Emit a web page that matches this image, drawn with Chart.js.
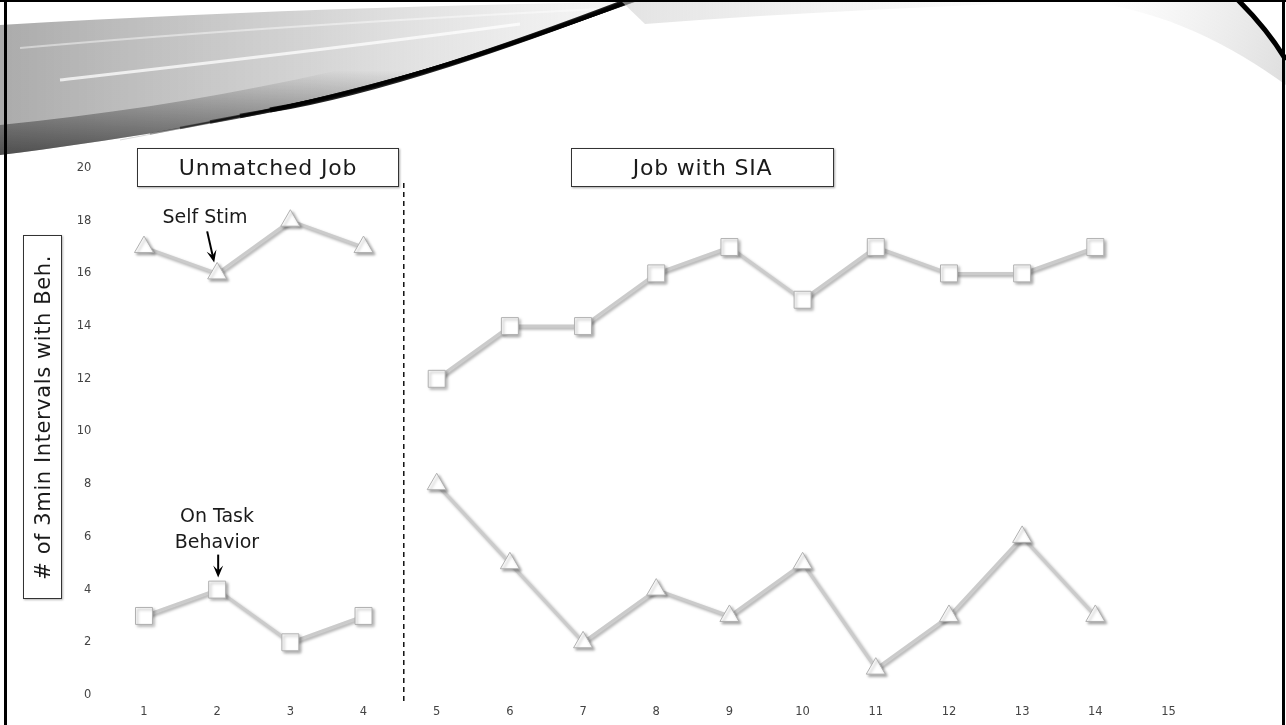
<!DOCTYPE html>
<html>
<head>
<meta charset="utf-8">
<script src="https://cdn.jsdelivr.net/npm/chart.js@4.4.1/dist/chart.umd.min.js"></script>
<style>
html, body { margin: 0; padding: 0; background: #fff; }
#wrap { position: relative; width: 1286px; height: 725px; overflow: hidden; font-family: "DejaVu Sans", sans-serif; color: #1a1a1a; }
#bg, #chart { position: absolute; left: 0; top: 0; }
.box { position: absolute; border: 1px solid #333; background: #fff; box-sizing: border-box; text-align: center; font-size: 22px; letter-spacing: 0.8px; line-height: 37px; box-shadow: 1px 1px 2px rgba(0,0,0,0.35); }
.note { position: absolute; text-align: center; font-size: 19px; line-height: 26px; white-space: nowrap; }
#ytitle { position: absolute; left: 23px; top: 235px; width: 39px; height: 364px; border: 1px solid #333; box-sizing: border-box; background: #fff; box-shadow: 1px 1px 2px rgba(0,0,0,0.3); display: flex; align-items: center; justify-content: center; }
#ytitle span { writing-mode: vertical-rl; transform: rotate(180deg); font-size: 21px; letter-spacing: 0.6px; white-space: nowrap; }
</style>
</head>
<body>
<div id="wrap">
  <canvas id="bg" width="1286" height="725"></canvas>
  <canvas id="chart" width="1286" height="725"></canvas>
  <div class="box" style="left:137px; top:148px; width:262px; height:39px;">Unmatched Job</div>
  <div class="box" style="left:571px; top:148px; width:263px; height:39px;">Job with SIA</div>
  <div id="ytitle"><span># of 3min Intervals with Beh.</span></div>
  <div class="note" style="left:155px; top:203px; width:100px;">Self Stim</div>
  <div class="note" style="left:162px; top:502px; width:110px;">On Task<br>Behavior</div>
</div>
<script>
// sessions on the x axis
var sessionTicks = [1, 2, 3, 4, 5, 6, 7, 8, 9, 10, 11, 12, 13, 14, 15];
var yTicks = [0, 2, 4, 6, 8, 10, 12, 14, 16, 18, 20];
var unmatchedSessions = [1, 2, 3, 4];
var siaSessions = [5, 6, 7, 8, 9, 10, 11, 12, 13, 14];
// self stim (triangles)
var selfStimUnmatched = [17, 16, 18, 17];
var selfStimSIA = [8, 5, 2, 4, 3, 5, 1, 3, 6, 3];
// on task behavior (squares)
var onTaskUnmatched = [3, 4, 2, 3];
var onTaskSIA = [12, 14, 14, 16, 17, 15, 17, 16, 16, 17];
var phaseChange = 4.55;

function points(xs, ys) {
  return xs.map(function(x, i) { return { x: x, y: ys[i] }; });
}

// slide decoration + frame
function drawBackground() {
  var c = document.getElementById('bg').getContext('2d');
  // gray swoosh band on the left
  var g = c.createLinearGradient(0, 0, 700, 0);
  g.addColorStop(0, 'rgba(150,150,150,0.8)');
  g.addColorStop(0.45, 'rgba(190,190,190,0.65)');
  g.addColorStop(1, 'rgba(235,235,235,0.25)');
  c.beginPath();
  c.moveTo(0, 25);
  c.bezierCurveTo(250, 10, 500, 3, 760, 0);
  c.lineTo(630, 0);
  c.bezierCurveTo(450, 80, 220, 128, 0, 155);
  c.closePath();
  c.fillStyle = g;
  c.fill();
  // dark shading along the lower edge
  var d = c.createLinearGradient(0, 160, 0, 70);
  d.addColorStop(0, 'rgba(40,40,40,0.75)');
  d.addColorStop(1, 'rgba(40,40,40,0)');
  c.beginPath();
  c.moveTo(0, 155);
  c.bezierCurveTo(220, 128, 450, 80, 630, 0);
  c.lineTo(570, 0);
  c.bezierCurveTo(400, 65, 200, 105, 0, 125);
  c.closePath();
  c.fillStyle = d;
  c.fill();
  // light streaks
  c.strokeStyle = 'rgba(255,255,255,0.75)';
  c.lineWidth = 3;
  c.beginPath();
  c.moveTo(60, 80);
  c.bezierCurveTo(200, 64, 350, 47, 520, 24);
  c.stroke();
  c.strokeStyle = 'rgba(255,255,255,0.45)';
  c.lineWidth = 2;
  c.beginPath();
  c.moveTo(20, 48);
  c.bezierCurveTo(200, 32, 380, 20, 600, 9);
  c.stroke();
  // black strand, thickening to the upper right
  for (var i = 0; i < 6; i++) {
    c.strokeStyle = 'rgba(0,0,0,' + (0.2 + i * 0.13) + ')';
    c.lineWidth = 0.8 + i * 0.9;
    c.beginPath();
    c.moveTo(120 + i * 30, 140 - i * 6);
    c.bezierCurveTo(380, 92, 520, 42, 640 - i * 2, 0);
    c.stroke();
  }
  // faint top band in the middle
  var t = c.createLinearGradient(600, 0, 1100, 0);
  t.addColorStop(0, 'rgba(205,205,205,0.6)');
  t.addColorStop(1, 'rgba(230,230,230,0)');
  c.beginPath();
  c.moveTo(620, 0);
  c.lineTo(1100, 0);
  c.bezierCurveTo(950, 6, 800, 12, 645, 24);
  c.closePath();
  c.fillStyle = t;
  c.fill();
  // right corner
  var r = c.createLinearGradient(1100, 0, 1286, 60);
  r.addColorStop(0, 'rgba(225,225,225,0)');
  r.addColorStop(1, 'rgba(210,210,210,0.7)');
  c.beginPath();
  c.moveTo(1080, 0);
  c.lineTo(1240, 0);
  c.bezierCurveTo(1260, 20, 1275, 40, 1286, 62);
  c.lineTo(1286, 85);
  c.bezierCurveTo(1230, 45, 1170, 12, 1080, 0);
  c.fillStyle = r;
  c.fill();
  c.strokeStyle = '#000';
  c.lineWidth = 5;
  c.beginPath();
  c.moveTo(1238, 0);
  c.bezierCurveTo(1258, 20, 1274, 40, 1286, 60);
  c.stroke();
  // frame
  c.fillStyle = '#000';
  c.fillRect(0, 0, 1286, 2);
  c.fillRect(4, 0, 3, 725);
  c.fillRect(1282, 0, 3, 725);
}
drawBackground();

var shadowPlugin = {
  id: 'shadow',
  beforeDatasetsDraw: function(chart) {
    var ctx = chart.ctx;
    ctx.save();
    ctx.shadowColor = 'rgba(0,0,0,0.35)';
    ctx.shadowBlur = 3;
    ctx.shadowOffsetX = 2;
    ctx.shadowOffsetY = 2;
  },
  afterDatasetsDraw: function(chart) {
    chart.ctx.restore();
  }
};

function arrow(ctx, x1, y1, x2, y2) {
  var a = Math.atan2(y2 - y1, x2 - x1);
  ctx.beginPath();
  ctx.moveTo(x1, y1);
  ctx.lineTo(x2 - 6 * Math.cos(a), y2 - 6 * Math.sin(a));
  ctx.stroke();
  ctx.beginPath();
  ctx.moveTo(x2, y2);
  ctx.lineTo(x2 - 12 * Math.cos(a) + 5 * Math.sin(a), y2 - 12 * Math.sin(a) - 5 * Math.cos(a));
  ctx.lineTo(x2 - 7 * Math.cos(a), y2 - 7 * Math.sin(a));
  ctx.lineTo(x2 - 12 * Math.cos(a) - 5 * Math.sin(a), y2 - 12 * Math.sin(a) + 5 * Math.cos(a));
  ctx.closePath();
  ctx.fill();
}

var extrasPlugin = {
  id: 'extras',
  afterDraw: function(chart) {
    var ctx = chart.ctx;
    var xs = chart.scales.x, ys = chart.scales.y;
    ctx.save();
    // phase change line
    var px = xs.getPixelForValue(phaseChange);
    ctx.strokeStyle = '#111';
    ctx.lineWidth = 1.5;
    ctx.setLineDash([5, 4]);
    ctx.beginPath();
    ctx.moveTo(px, 183);
    ctx.lineTo(px, 701);
    ctx.stroke();
    ctx.setLineDash([]);
    // arrows to the labelled points
    ctx.strokeStyle = '#000';
    ctx.fillStyle = '#000';
    ctx.lineWidth = 2;
    var sx = xs.getPixelForValue(2), sy = ys.getPixelForValue(selfStimUnmatched[1]);
    arrow(ctx, sx - 10, sy - 42, sx - 3, sy - 11);
    var ox = xs.getPixelForValue(2), oy = ys.getPixelForValue(onTaskUnmatched[1]);
    arrow(ctx, ox + 1, oy - 35, ox + 1, oy - 12);
    ctx.restore();
  }
};

function series(data, style) {
  return {
    data: data,
    borderColor: '#cbcbcb',
    borderWidth: 3,
    pointStyle: style,
    pointRadius: style === 'rect' ? 12 : 11,
    pointBackgroundColor: '#ffffff',
    pointBorderColor: '#b0b0b0',
    pointBorderWidth: 1,
    tension: 0,
    clip: false
  };
}

var tickFont = { family: '"DejaVu Sans", sans-serif', size: 11.5 };

new Chart(document.getElementById('chart').getContext('2d'), {
  type: 'line',
  data: {
    datasets: [
      series(points(unmatchedSessions, selfStimUnmatched), 'triangle'),
      series(points(siaSessions, selfStimSIA), 'triangle'),
      series(points(unmatchedSessions, onTaskUnmatched), 'rect'),
      series(points(siaSessions, onTaskSIA), 'rect')
    ]
  },
  options: {
    responsive: false,
    animation: false,
    devicePixelRatio: 1,
    layout: { padding: { left: 47.4, right: 80.9, top: 168, bottom: 0 } },
    plugins: { legend: { display: false }, tooltip: { enabled: false } },
    scales: {
      x: {
        type: 'linear',
        min: 0.5,
        max: 15.5,
        grid: { display: false, drawTicks: false },
        border: { display: false },
        afterBuildTicks: function(s) { s.ticks = sessionTicks.map(function(v) { return { value: v }; }); },
        afterFit: function(s) { s.height = 30; },
        ticks: { padding: 10, font: tickFont, color: '#444', maxRotation: 0, autoSkip: false }
      },
      y: {
        min: 0,
        max: 20,
        grid: { display: false, drawTicks: false },
        border: { display: false },
        afterBuildTicks: function(s) { s.ticks = yTicks.map(function(v) { return { value: v }; }); },
        afterFit: function(s) { s.width = 60; },
        ticks: { padding: 16, font: tickFont, color: '#444' }
      }
    }
  },
  plugins: [shadowPlugin, extrasPlugin]
});
</script>
</body>
</html>
